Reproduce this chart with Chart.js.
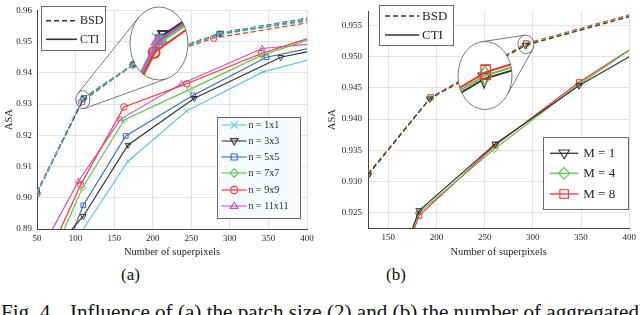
<!DOCTYPE html>
<html><head><meta charset="utf-8">
<script src="https://cdn.jsdelivr.net/npm/chart.js@4/dist/chart.umd.min.js"></script>
<style>
html,body{margin:0;padding:0;background:#fff;}
body{width:640px;height:315px;overflow:hidden;position:relative;font-family:"Liberation Serif",serif;}
canvas{position:absolute;top:0;}
#ca{left:0;} #cb{left:320px;}
.lab{position:absolute;font-size:17px;color:#111;white-space:pre;line-height:17px;}
.cap{position:absolute;font-size:20px;color:#111;white-space:pre;line-height:20px;top:301.5px;transform-origin:0 0;}
</style></head><body>
<canvas id="ca" width="320" height="262"></canvas>
<canvas id="cb" width="320" height="262"></canvas>
<div class="lab" style="left:121px;top:266px;">(a)</div>
<div class="lab" style="left:386px;top:266px;">(b)</div>
<div class="cap" id="cap1" style="left:1px;">Fig. 4.</div>
<div class="cap" id="cap2" style="left:70px;">Influence of (a) the patch size (2) and (b) the number of aggregated</div>
<script>
// ---------------- (a) patch size ----------------
const xTicksA = [50,100,150,200,250,300,350,400];
const yTicksA = [0.89,0.90,0.91,0.92,0.93,0.94,0.95,0.96];
const yTickLabelsA = ['0.89','0.90','0.91','0.92','0.93','0.94','0.95','0.96'];
const namesA = ['n = 1x1','n = 3x3','n = 5x5','n = 7x7','n = 9x9','n = 11x11'];

// BSD (dashed)
const bsdA_x_1 = [50,109,175,287,400];   const bsdA_y_1 = [0.9018,0.9318,0.9428,0.9527,0.9573];
const bsdA_x_3 = [50,111,176,288,400];   const bsdA_y_3 = [0.9020,0.9321,0.9430,0.9528,0.9575];
const bsdA_x_5 = [50,110,175,286,400];   const bsdA_y_5 = [0.9017,0.9317,0.9427,0.9525,0.9570];
const bsdA_x_7 = [50,110,174,288,400];   const bsdA_y_7 = [0.9016,0.9315,0.9424,0.9523,0.9566];
const bsdA_x_9 = [50,108,174,279,400];   const bsdA_y_9 = [0.9013,0.9307,0.9425,0.9511,0.9560];
const bsdA_x_11 = [50,109,175,285,400];  const bsdA_y_11 = [0.9017,0.9316,0.9426,0.9524,0.9568];
// CTI (solid)
const ctiA_x_1 = [52,106,168,244,343,400];     const ctiA_y_1 = [0.8680,0.8885,0.9117,0.9278,0.9403,0.9440];
const ctiA_x_3 = [53,110,168,254,366,400];     const ctiA_y_3 = [0.8780,0.8941,0.9169,0.9319,0.9450,0.9467];
const ctiA_x_5 = [53,110,165,252.5,347.5,400]; const ctiA_y_5 = [0.8620,0.8976,0.9198,0.9328,0.9450,0.9477];
const ctiA_x_7 = [53,109,163,248,341,400];     const ctiA_y_7 = [0.8720,0.9032,0.9249,0.9347,0.9456,0.9504];
const ctiA_x_9 = [53,106.6,162.7,244,341,400]; const ctiA_y_9 = [0.8750,0.9042,0.9291,0.9365,0.9462,0.9509];
const ctiA_x_11 = [53,103.5,158.4,237.4,342,400]; const ctiA_y_11 = [0.8822,0.9052,0.9252,0.9365,0.9478,0.9491];

// ---------------- (b) number of aggregated ----------------
const xTicksB = [150,200,250,300,350,400];
const yTicksB = [0.925,0.930,0.935,0.940,0.945,0.950,0.955];
const yTickLabelsB = ['0.925','0.930','0.935','0.940','0.945','0.950','0.955'];
const namesB = ['M = 1','M = 4','M = 8'];
const bsdB_x_1 = [129,193,292.5,400]; const bsdB_y_1 = [0.9310,0.94325,0.95185,0.95645];
const bsdB_x_4 = [129,193.5,292.8,400]; const bsdB_y_4 = [0.93112,0.94337,0.95200,0.95660];
const bsdB_x_8 = [129,194,293,400]; const bsdB_y_8 = [0.93125,0.9435,0.95215,0.95675];
const ctiB_x_1 = [129,182,261,348,400]; const ctiB_y_1 = [0.9030,0.9253,0.9360,0.9454,0.9500];
const ctiB_x_4 = [129,181.5,260,348,400]; const ctiB_y_4 = [0.9025,0.9249,0.9352,0.9456,0.9510];
const ctiB_x_8 = [129,182,261,348,400]; const ctiB_y_8 = [0.9020,0.9245,0.9358,0.9459,0.9511];

// ---------------- styles ----------------
const colA = ['#5ec8ea','#333333','#3b6ec6','#5fc94c','#ff3030','#cc50bf'];
const mkA = [['crossRot',0],['triangle',180],['rect',0],['rectRot',0],['circle',0],['triangle',0]];
const colB = ['#333333','#58c64a','#ff2d2d'];
const mkB = [['triangle',180],['rectRot',0],['rect',0]];
const FONT = '"Liberation Serif", "Times New Roman", serif';
const TXT = '#262626';

function pts(xs, ys){ return xs.map((x,i)=>({x:x, y:ys[i]})); }
function ds(xs, ys, color, mk, dashed, r){
  return {data: pts(xs,ys), showLine:true, borderColor:color, borderWidth:1.2, borderDash: dashed?[5,3]:[],
    pointStyle: mk[0], pointRotation: mk[1], pointBorderColor: color, pointBackgroundColor:'rgba(0,0,0,0)',
    pointBorderWidth:1, pointRadius: c => (c.raw && c.raw.x >= 400) ? 0 : r, pointHoverRadius:0, tension:0, mk: mk};
}

function marker(ctx, style, rot, x, y, r, color, lw, sx, sy){
  sx = sx||1; sy = sy||1;
  ctx.save(); ctx.translate(x,y); ctx.scale(sx,sy); ctx.rotate(rot*Math.PI/180);
  ctx.strokeStyle=color; ctx.lineWidth=lw/Math.max(sx,sy); ctx.setLineDash([]);
  ctx.beginPath();
  if(style==='circle'){ ctx.arc(0,0,r,0,2*Math.PI); }
  else if(style==='rect'){ const s=r*0.85; ctx.rect(-s,-s,2*s,2*s); }
  else if(style==='rectRot'){ ctx.moveTo(0,-r*1.15); ctx.lineTo(r*1.15,0); ctx.lineTo(0,r*1.15); ctx.lineTo(-r*1.15,0); ctx.closePath(); }
  else if(style==='triangle'){ const h=r*1.1; ctx.moveTo(0,-h); ctx.lineTo(h*0.95,h*0.6); ctx.lineTo(-h*0.95,h*0.6); ctx.closePath(); }
  else if(style==='crossRot'){ ctx.moveTo(-r,-r); ctx.lineTo(r,r); ctx.moveTo(r,-r); ctx.lineTo(-r,r); }
  ctx.stroke(); ctx.restore();
}

function tangents(c1, c2){
  const h=(c,t)=>{const nx=Math.cos(t), ny=Math.sin(t); return c.x*nx+c.y*ny+Math.hypot(c.rx*nx,c.ry*ny);};
  const f=t=>h(c1,t)-h(c2,t);
  const roots=[]; const N=720;
  for(let i=0;i<N;i++){ const a=i/N*2*Math.PI, b=(i+1)/N*2*Math.PI; const fa=f(a), fb=f(b);
    if(fa*fb<0){ let lo=a,hi=b; for(let k=0;k<40;k++){const m=(lo+hi)/2; if(f(lo)*f(m)<=0) hi=m; else lo=m;} roots.push((lo+hi)/2);} }
  const pt=(c,t)=>{const nx=Math.cos(t), ny=Math.sin(t); const s=Math.hypot(c.rx*nx,c.ry*ny); return [c.x+c.rx*c.rx*nx/s, c.y+c.ry*c.ry*ny/s];};
  return roots.map(t=>[pt(c1,t),pt(c2,t)]);
}

const decor = {
  id:'decor',
  afterDatasetsDraw(chart, args, o){
    const ctx = chart.ctx, X = chart.scales.x, Y = chart.scales.y;
    const I = o.inset;
    const sx = X.getPixelForValue(I.cx), sy = Y.getPixelForValue(I.cy);
    const small = {x:sx, y:sy, rx:I.srx, ry:I.sry};
    const big = {x:I.bx, y:I.by, rx:I.brx, ry:I.bry};
    const mx = I.brx/I.srx, my = I.bry/I.sry;
    ctx.save();
    ctx.strokeStyle='#555'; ctx.lineWidth=0.8; ctx.setLineDash([]);
    tangents(small,big).forEach(([p,q])=>{ ctx.beginPath(); ctx.moveTo(p[0],p[1]); ctx.lineTo(q[0],q[1]); ctx.stroke(); });
    ctx.beginPath(); ctx.ellipse(sx,sy,I.srx,I.sry,0,0,2*Math.PI); ctx.stroke();
    ctx.beginPath(); ctx.ellipse(I.bx,I.by,I.brx,I.bry,0,0,2*Math.PI); ctx.fillStyle='#fff'; ctx.fill();
    ctx.save(); ctx.clip();
    chart.data.datasets.forEach(d=>{
      if(!d.borderDash.length) return;
      const P = d.data.map(p=>[I.bx+(X.getPixelForValue(p.x)-sx)*mx, I.by+(Y.getPixelForValue(p.y)-sy)*my]);
      ctx.beginPath(); P.forEach((p,j)=> j?ctx.lineTo(p[0],p[1]):ctx.moveTo(p[0],p[1]));
      ctx.strokeStyle=d.borderColor; ctx.lineWidth=2; ctx.setLineDash([]); ctx.stroke();
      P.forEach(p=>{ if(Math.abs(p[0]-I.bx)<I.brx && Math.abs(p[1]-I.by)<I.bry) marker(ctx,d.mk[0],d.mk[1],p[0],p[1],I.mr,d.borderColor,1.8,1,I.mys); });
    });
    ctx.restore();
    ctx.beginPath(); ctx.ellipse(I.bx,I.by,I.brx,I.bry,0,0,2*Math.PI); ctx.strokeStyle='#555'; ctx.lineWidth=0.8; ctx.stroke();
    ctx.restore();
    o.legends.forEach(L=>{
      ctx.save();
      ctx.fillStyle=L.bg; ctx.fillRect(L.x0,L.y0,L.x1-L.x0,L.y1-L.y0);
      ctx.strokeStyle='#6a6a6a'; ctx.lineWidth=1; ctx.strokeRect(Math.round(L.x0)+0.5,Math.round(L.y0)+0.5,Math.round(L.x1-L.x0),Math.round(L.y1-L.y0));
      ctx.font = L.font+'px '+FONT; ctx.textBaseline='middle'; ctx.textAlign='left';
      L.items.forEach((it,k)=>{
        const y=L.rows[k];
        ctx.beginPath(); ctx.moveTo(L.l0,y); ctx.lineTo(L.l1,y); ctx.strokeStyle=it.color; ctx.lineWidth=L.lw;
        ctx.setLineDash(it.dash||[]); ctx.stroke(); ctx.setLineDash([]);
        if(it.mk){ ctx.fillStyle=L.bg; marker(ctx,it.mk[0],it.mk[1],(L.l0+L.l1)/2,y,L.mr,it.color,1.1); }
        ctx.fillStyle=TXT; ctx.fillText(it.label,L.tx,y+0.5);
      });
      ctx.restore();
    });
  }
};

function makeChart(id, datasets, cfg){
  return new Chart(document.getElementById(id), {
    type:'scatter',
    data:{datasets},
    plugins:[decor],
    options:{
      animation:false, responsive:false, devicePixelRatio:1, events:[],
      layout:{padding:cfg.pad},
      plugins:{legend:{display:false}, tooltip:{enabled:false}, decor:cfg.decor},
      scales:{
        x:{type:'linear', min:cfg.xmin, max:cfg.xmax,
          afterBuildTicks:s=>{ s.ticks = cfg.xt.map(v=>({value:v})); },
          afterFit:s=>{ s.height = cfg.xh; },
          ticks:{font:{family:FONT,size:9}, color:TXT, padding:4, maxRotation:0, callback:(v)=>String(v)},
          grid:{color:'#e3e3e3', drawTicks:false, lineWidth:1},
          border:{color:'#444', width:1},
          title:{display:true, text:'Number of superpixels', font:{family:FONT,size:10.5}, color:TXT, padding:{top:0,bottom:cfg.xtp}}
        },
        y:{type:'linear', min:cfg.ymin, max:cfg.ymax,
          afterBuildTicks:s=>{ s.ticks = cfg.yt.map(v=>({value:v})); },
          afterFit:s=>{ s.width = cfg.yw; },
          ticks:{font:{family:FONT,size:9}, color:TXT, padding:cfg.ytpad, callback:(v,i)=>cfg.ytl[i]},
          grid:{color:'#e3e3e3', drawTicks:false, lineWidth:1},
          border:{color:'#444', width:1},
          title:{display:true, text:'ASA', font:{family:FONT,size:10.5}, color:TXT, padding:{top:cfg.ytp,bottom:0}}
        }
      }
    }
  });
}

const bsdAx=[bsdA_x_1,bsdA_x_3,bsdA_x_5,bsdA_x_7,bsdA_x_9,bsdA_x_11], bsdAy=[bsdA_y_1,bsdA_y_3,bsdA_y_5,bsdA_y_7,bsdA_y_9,bsdA_y_11];
const ctiAx=[ctiA_x_1,ctiA_x_3,ctiA_x_5,ctiA_x_7,ctiA_x_9,ctiA_x_11], ctiAy=[ctiA_y_1,ctiA_y_3,ctiA_y_5,ctiA_y_7,ctiA_y_9,ctiA_y_11];
const dsA = [];
for(let i=0;i<6;i++) dsA.push(ds(bsdAx[i],bsdAy[i],colA[i],mkA[i],true,3.3));
for(let i=0;i<6;i++) dsA.push(ds(ctiAx[i],ctiAy[i],colA[i],mkA[i],false,3.3));

makeChart('ca', dsA, {
  pad:{left:0,right:13,top:9,bottom:0}, xmin:50, xmax:400, xt:xTicksA, xh:33, xtp:3,
  ymin:0.89, ymax:0.96, yt:yTicksA, ytl:yTickLabelsA, yw:37, ytp:3, ytpad:5,
  decor:{
    inset:{cx:109.5, cy:0.9314, srx:7, sry:9, bx:159, by:43.5, brx:29, bry:36.5, mr:5.5, mys:1},
    legends:[
      {x0:40.7,y0:6,x1:105,y1:50, bg:'#ffffff', font:12, rows:[20.7,39.3], l0:46, l1:77, tx:80, lw:1.6, mr:0,
       items:[{label:'BSD',color:'#333',dash:[5,3]},{label:'CTI',color:'#333'}]},
      {x0:216.7,y0:117.3,x1:300,y1:218.3, bg:'#f8fbfd', font:10, rows:[125,141,157,173,190,206], l0:221.7, l1:246.7, tx:248.5, lw:1.1, mr:3.6,
       items: namesA.map((n,i)=>({label:n,color:colA[i],mk:mkA[i]}))}
    ]
  }
});

const bsdBx=[bsdB_x_1,bsdB_x_4,bsdB_x_8], bsdBy=[bsdB_y_1,bsdB_y_4,bsdB_y_8];
const ctiBx=[ctiB_x_1,ctiB_x_4,ctiB_x_8], ctiBy=[ctiB_y_1,ctiB_y_4,ctiB_y_8];
const dsB = [];
for(let i=0;i<3;i++) dsB.push(ds(bsdBx[i],bsdBy[i],colB[i],mkB[i],true,3.8));
for(let i=0;i<3;i++) dsB.push(ds(ctiBx[i],ctiBy[i],colB[i],mkB[i],false,3.8));

makeChart('cb', dsB, {
  pad:{left:0,right:8,top:3,bottom:0}, xmin:129, xmax:400, xt:xTicksB, xh:34, xtp:3,
  ymin:0.9225, ymax:0.9573, yt:yTicksB, ytl:yTickLabelsB, yw:48, ytp:5.5, ytpad:6,
  decor:{
    inset:{cx:292.8, cy:0.9520, srx:8, sry:9.3, bx:165, by:75.5, brx:27, bry:34, mr:5.5, mys:1.5},
    legends:[
      {x0:59.3,y0:5,x1:133.3,y1:45, bg:'#ffffff', font:13, rows:[16,35], l0:65, l1:99.3, tx:102, lw:1.6, mr:0,
       items:[{label:'BSD',color:'#333',dash:[5,3]},{label:'CTI',color:'#333'}]},
      {x0:223.3,y0:136.7,x1:308.3,y1:208.3, bg:'#ffffff', font:13, rows:[153.3,173.3,194], l0:230, l1:258.3, tx:263.3, lw:1.3, mr:5,
       items: namesB.map((n,i)=>({label:n,color:colB[i],mk:mkB[i]}))}
    ]
  }
});

// fit caption widths to the reference layout
(function(){
  const c2 = document.getElementById('cap2'), c1 = document.getElementById('cap1');
  const w = c2.getBoundingClientRect().width;
  const s = (639 - 70) / w;
  c2.style.transform = 'scaleX(' + s + ')';
  c1.style.transform = 'scaleX(' + s + ')';
})();
</script>
</body></html>
